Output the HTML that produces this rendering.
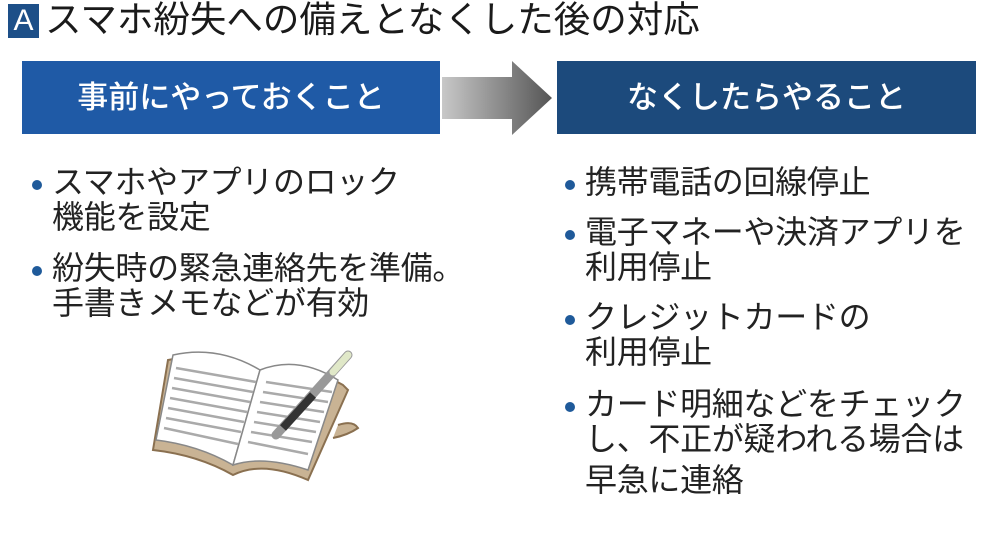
<!DOCTYPE html>
<html><head><meta charset="utf-8"><style>
body{margin:0;width:1000px;height:541px;background:#fff;position:relative;overflow:hidden;font-family:"Liberation Sans","Noto Sans CJK JP",sans-serif;color:#222}
.a{position:absolute;left:8px;top:4px;width:31px;height:34px;background:#1d4f88;color:#fff;font-size:30px;line-height:34px;text-align:center}
.t{position:absolute;left:45px;top:-2px;font-size:36.5px;line-height:44px;color:#1a1a1a;white-space:nowrap}
.h{position:absolute;top:61px;height:73px;color:#fff;font-size:31px;line-height:73px;text-align:center;font-weight:500}
.l{position:absolute;font-size:32px;line-height:35px;white-space:nowrap;color:#222;letter-spacing:-0.3px}
.d{position:absolute;width:10px;height:10px;border-radius:50%;background:#1f5a9a}
</style></head><body>
<div class="a">A</div>
<div class="t">スマホ紛失への備えとなくした後の対応</div>
<div class="h" style="left:22px;width:418px;background:#1f5aa6">事前にやっておくこと</div>
<svg style="position:absolute;left:440px;top:61px" width="118" height="74">
<defs><linearGradient id="g" x1="0" x2="1"><stop offset="0" stop-color="#c8c8c8"/><stop offset="1" stop-color="#555"/></linearGradient></defs>
<polygon points="2,16 72,16 72,0 112,37 72,74 72,58 2,58" fill="url(#g)"/>
</svg>
<div class="h" style="left:557px;width:419px;background:#1c4a7c">なくしたらやること</div>

<div class="d" style="left:32px;top:180px"></div>
<div class="l" style="left:52px;top:165px">スマホやアプリのロック</div>
<div class="l" style="left:52px;top:200px">機能を設定</div>
<div class="d" style="left:32px;top:266px"></div>
<div class="l" style="left:52px;top:251px">紛失時の緊急連絡先を準備。</div>
<div class="l" style="left:52px;top:286px">手書きメモなどが有効</div>

<svg style="position:absolute;left:148px;top:340px" width="220" height="150">
<path d="M20,20 Q70,10 115,35 Q150,20 195,45 L200,50 L160,140 Q115,120 85,135 Q50,115 5,110 Z" fill="#c9b394" stroke="#8a7050" stroke-width="2"/>
<path d="M25,15 Q70,5 112,30 L85,125 Q50,105 8,100 Z" fill="#fff" stroke="#888" stroke-width="1.5"/>
<path d="M112,30 Q150,15 190,40 L160,130 Q115,115 85,125 Z" fill="#fff" stroke="#888" stroke-width="1.5"/>
<g stroke="#aaa" stroke-width="2.5">
<line x1="28" y1="28" x2="108" y2="42"/><line x1="26" y1="38" x2="105" y2="52"/><line x1="24" y1="48" x2="102" y2="62"/><line x1="22" y1="58" x2="99" y2="72"/><line x1="20" y1="68" x2="96" y2="82"/><line x1="18" y1="78" x2="93" y2="92"/><line x1="16" y1="88" x2="90" y2="104"/>
<line x1="118" y1="42" x2="184" y2="52"/><line x1="115" y1="52" x2="180" y2="62"/><line x1="112" y1="62" x2="176" y2="72"/><line x1="109" y1="72" x2="172" y2="82"/><line x1="106" y1="82" x2="168" y2="92"/><line x1="103" y1="92" x2="164" y2="102"/><line x1="100" y1="102" x2="160" y2="114"/>
</g>
<path d="M190,85 Q205,80 210,88 Q200,95 185,98" fill="#c9b394" stroke="#8a7050" stroke-width="2"/>
<line x1="200" y1="15" x2="128" y2="95" stroke="#999" stroke-width="9" stroke-linecap="round"/>
<line x1="200" y1="15" x2="185" y2="32" stroke="#e0e8c8" stroke-width="7" stroke-linecap="round"/>
<line x1="165" y1="55" x2="135" y2="88" stroke="#333" stroke-width="8"/>
</svg>

<div class="d" style="left:565px;top:180px"></div>
<div class="l" style="left:585px;top:165px">携帯電話の回線停止</div>
<div class="d" style="left:565px;top:230px"></div>
<div class="l" style="left:585px;top:215px">電子マネーや決済アプリを</div>
<div class="l" style="left:585px;top:250px">利用停止</div>
<div class="d" style="left:565px;top:315px"></div>
<div class="l" style="left:585px;top:300px">クレジットカードの</div>
<div class="l" style="left:585px;top:335px">利用停止</div>
<div class="d" style="left:565px;top:402px"></div>
<div class="l" style="left:585px;top:387px">カード明細などをチェック</div>
<div class="l" style="left:585px;top:422px">し、不正が疑われる場合は</div>
<div class="l" style="left:585px;top:463px">早急に連絡</div>
</body></html>
